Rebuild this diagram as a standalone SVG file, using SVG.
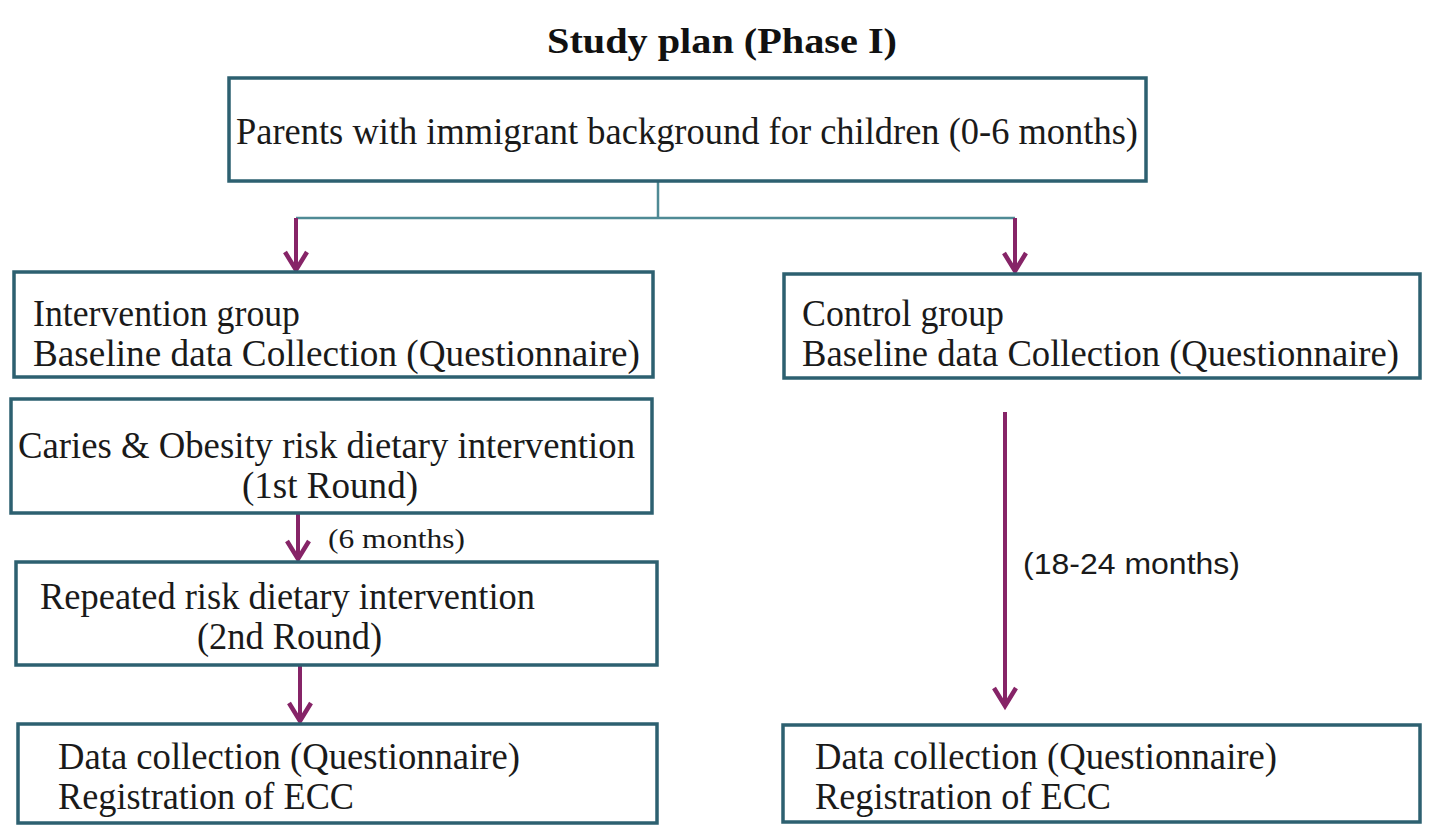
<svg xmlns="http://www.w3.org/2000/svg" width="1440" height="838" viewBox="0 0 1440 838">
  <style>
    .box { fill: #ffffff; stroke: #2d6070; stroke-width: 3.5; }
    .t { font-family: "Liberation Serif", "Times New Roman", serif; font-size: 38px; fill: #1a1a1a; }
    .title { font-family: "Liberation Serif", "Times New Roman", serif; font-size: 36px; font-weight: bold; fill: #111111; }
    .lbl { font-family: "Liberation Serif", "Times New Roman", serif; font-size: 28px; fill: #1a1a1a; }
    .lbls { font-family: "Liberation Sans", Arial, sans-serif; font-size: 30px; fill: #1a1a1a; }
    .split { fill: none; stroke: #4f8a95; stroke-width: 2.5; }
    .arrow { fill: none; stroke: #862467; stroke-width: 4; marker-end: url(#head); }
  </style>
  <defs>
    <marker id="head" markerUnits="userSpaceOnUse" markerWidth="40" markerHeight="40" refX="0" refY="0" orient="auto" overflow="visible">
      <path d="M -18,-11 L 0,0 L -18,11" fill="none" stroke="#862467" stroke-width="4.5" stroke-linejoin="miter"/>
    </marker>
  </defs>
  <rect width="1440" height="838" fill="#ffffff"/>

  <text class="title" x="722" y="53" text-anchor="middle" textLength="350" lengthAdjust="spacingAndGlyphs">Study plan (Phase I)</text>

  <g id="connectors">
    <path class="split" d="M658,181 V218 M296,218 H1015"/>
    <line class="arrow" x1="296" y1="218" x2="296" y2="270"/>
    <line class="arrow" x1="1015" y1="218" x2="1015" y2="271"/>
    <line class="arrow" x1="298" y1="513" x2="298" y2="559"/>
    <line class="arrow" x1="300" y1="665" x2="300" y2="721"/>
    <line class="arrow" x1="1005" y1="412" x2="1005" y2="706"/>
    <text class="lbl" x="328" y="548" textLength="137" lengthAdjust="spacingAndGlyphs">(6 months)</text>
    <text class="lbls" x="1023" y="574" textLength="217" lengthAdjust="spacingAndGlyphs">(18-24  months)</text>
  </g>

  <g id="n_parents">
    <rect class="box" x="229" y="78" width="917" height="103"/>
    <text class="t" x="236" y="144" textLength="902" lengthAdjust="spacingAndGlyphs">Parents with immigrant background for children (0-6 months)</text>
  </g>

  <g id="n_intervention">
    <rect class="box" x="14" y="272" width="639" height="105"/>
    <text class="t" x="33" y="326" textLength="267" lengthAdjust="spacingAndGlyphs">Intervention group</text>
    <text class="t" x="33" y="366" textLength="607" lengthAdjust="spacingAndGlyphs">Baseline data Collection (Questionnaire)</text>
  </g>

  <g id="n_control">
    <rect class="box" x="784" y="274" width="636" height="104"/>
    <text class="t" x="802" y="326" textLength="202" lengthAdjust="spacingAndGlyphs">Control group</text>
    <text class="t" x="802" y="366" textLength="597" lengthAdjust="spacingAndGlyphs">Baseline data Collection (Questionnaire)</text>
  </g>

  <g id="n_caries">
    <rect class="box" x="11" y="399" width="641" height="114"/>
    <text class="t" x="18" y="458" textLength="617" lengthAdjust="spacingAndGlyphs">Caries &amp; Obesity risk dietary intervention</text>
    <text class="t" x="242" y="498" textLength="176" lengthAdjust="spacingAndGlyphs">(1st Round)</text>
  </g>

  <g id="n_repeated">
    <rect class="box" x="16" y="562" width="641" height="103"/>
    <text class="t" x="40" y="609" textLength="495" lengthAdjust="spacingAndGlyphs">Repeated risk dietary intervention</text>
    <text class="t" x="197" y="649" textLength="185" lengthAdjust="spacingAndGlyphs">(2nd Round)</text>
  </g>

  <g id="n_data_left">
    <rect class="box" x="18" y="724" width="639" height="99"/>
    <text class="t" x="58" y="769" textLength="462" lengthAdjust="spacingAndGlyphs">Data collection (Questionnaire)</text>
    <text class="t" x="58" y="809" textLength="296" lengthAdjust="spacingAndGlyphs">Registration of ECC</text>
  </g>

  <g id="n_data_right">
    <rect class="box" x="783" y="725" width="637" height="97"/>
    <text class="t" x="815" y="769" textLength="462" lengthAdjust="spacingAndGlyphs">Data collection (Questionnaire)</text>
    <text class="t" x="815" y="809" textLength="296" lengthAdjust="spacingAndGlyphs">Registration of ECC</text>
  </g>
</svg>
